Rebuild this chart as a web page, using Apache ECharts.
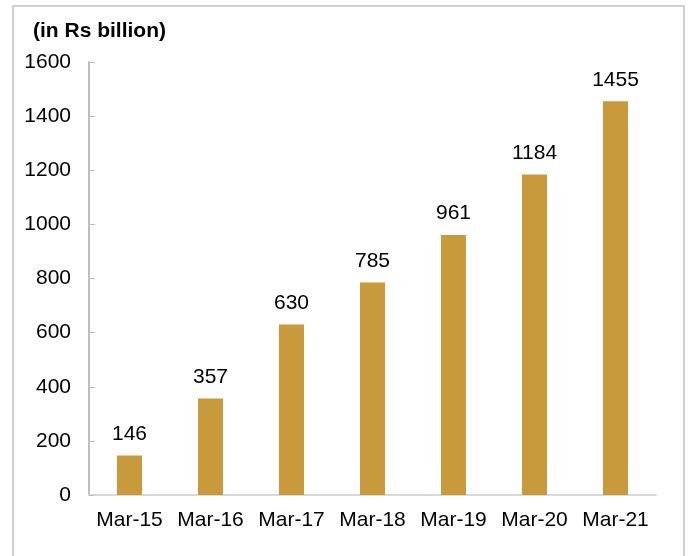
<!DOCTYPE html>
<html>
<head>
<meta charset="utf-8">
<script src="https://cdn.jsdelivr.net/npm/echarts@6/dist/echarts.min.js"></script>
<style>
  html, body { margin: 0; padding: 0; background: #fff; }
  #chart { width: 691px; height: 556px; }
</style>
</head>
<body>
<div id="chart"></div>
<script>
// Outstanding amount at each fiscal year end (in Rs billion)
const categories = ['Mar-15', 'Mar-16', 'Mar-17', 'Mar-18', 'Mar-19', 'Mar-20', 'Mar-21'];
const values = [146, 357, 630, 785, 961, 1184, 1455];
const yTicks = [0, 200, 400, 600, 800, 1000, 1200, 1400, 1600];

const FONT = 'Liberation Sans, Arial, sans-serif';
const chart = echarts.init(document.getElementById('chart'), null, { renderer: 'canvas' });

chart.setOption({
  animation: false,
  backgroundColor: '#fff',
  title: {
    text: '(in Rs billion)',
    left: 28,
    top: 16,
    textStyle: { fontFamily: FONT, fontSize: 21, fontWeight: 'bold', color: '#000' }
  },
  graphic: [{
    type: 'rect',
    shape: { x: 13, y: 6, width: 671, height: 600 },
    style: { fill: 'none', stroke: '#d0d0d0', lineWidth: 2 },
    silent: true
  }],
  grid: { left: 89, right: 35, top: 62, bottom: 61, containLabel: false },
  xAxis: {
    type: 'category',
    data: categories,
    axisLine: { lineStyle: { color: '#d9d9d9', width: 2 } },
    axisTick: { show: false },
    axisLabel: { interval: 0, fontFamily: FONT, fontSize: 21, color: '#000', margin: 15 }
  },
  yAxis: {
    type: 'value',
    min: yTicks[0],
    max: yTicks[yTicks.length - 1],
    interval: yTicks[1] - yTicks[0],
    axisLine: { show: true, lineStyle: { color: '#bfbfbf', width: 2 } },
    axisTick: { show: true, inside: true, length: 6, lineStyle: { color: '#bfbfbf', width: 1 } },
    splitLine: { show: false },
    axisLabel: {
      fontFamily: FONT, fontSize: 21, color: '#000', margin: 18,
      formatter: v => String(v)
    }
  },
  series: [{
    type: 'bar',
    data: values,
    barWidth: 25,
    itemStyle: { color: '#C89A3B' },
    label: {
      show: true,
      position: 'top',
      distance: 11,
      fontFamily: FONT,
      fontSize: 21,
      color: '#000'
    }
  }]
});
</script>
</body>
</html>
